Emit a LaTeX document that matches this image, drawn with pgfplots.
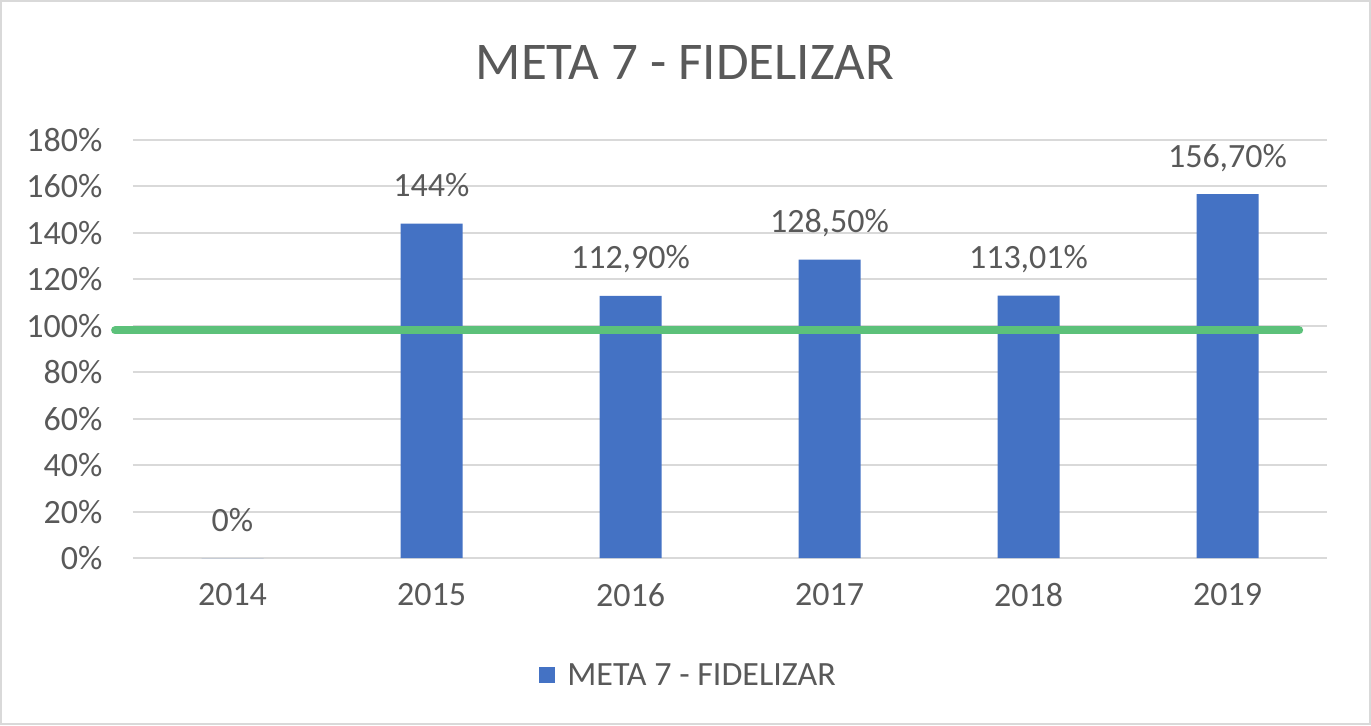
\documentclass[border=0pt]{standalone}
\usepackage{pgfplots}
\pgfplotsset{compat=1.18}
\usepackage{fontspec}
\setmainfont{Carlito}
\definecolor{barblue}{HTML}{4472C4}
\definecolor{txt}{HTML}{595959}
\definecolor{gridc}{HTML}{D9D9D9}
\definecolor{goal}{RGB}{92,193,122}
\begin{document}
\begin{tikzpicture}
\path[use as bounding box] (0,0) rectangle (685.5pt,362.5pt);
\draw[gridc, line width=1pt] (0.5pt,0.5pt) rectangle (685pt,362pt);
\node[font=\fontsize{26.5}{30}\selectfont, text=txt] at (342.5pt,331.5pt) {META 7 - FIDELIZAR};
\begin{axis}[
  at={(66.5pt,83.5pt)}, anchor=south west,
  scale only axis, width=597pt, height=209pt,
  xmin=-0.5, xmax=5.5, ymin=0, ymax=180,
  clip=false,
  xtick={0,1,2,3,4,5}, xticklabels={2014,2015,2016,2017,2018,2019},
  ytick={0,20,...,180},
  yticklabel={\pgfmathprintnumber[assume math mode=true]{\tick}\%},
  axis line style={draw=none},
  major tick length=0pt,
  ymajorgrids, grid style={gridc, line width=1pt},
  ticklabel style={font=\fontsize{17}{20}\selectfont, text=txt},
  yticklabel style={xshift=-11.8pt},
  xticklabel style={yshift=-9.3pt},
]
\addplot[ybar, bar width=31pt, fill=barblue, draw=none,
  nodes near coords, point meta=explicit symbolic,
  every node near coord/.append style={anchor=base, yshift=13.5pt,
    font=\fontsize{17}{20}\selectfont, text=txt}]
  table[x=x, y=y, meta=lab] {
x y lab
0 0 0\%
1 144 144\%
2 112.9 {112,90\%}
3 128.5 {128,50\%}
4 113.01 {113,01\%}
5 156.7 {156,70\%}
};
\addplot[goal, line width=4pt, line cap=round, forget plot] coordinates {(-0.59,98) (5.36,98)};
\end{axis}
\fill[barblue] (269.5pt,21pt) rectangle (277.5pt,29pt);
\node[anchor=west, inner sep=0pt, font=\fontsize{17}{20}\selectfont, text=txt] at (283.5pt,25pt) {META 7 - FIDELIZAR};
\end{tikzpicture}
\end{document}
